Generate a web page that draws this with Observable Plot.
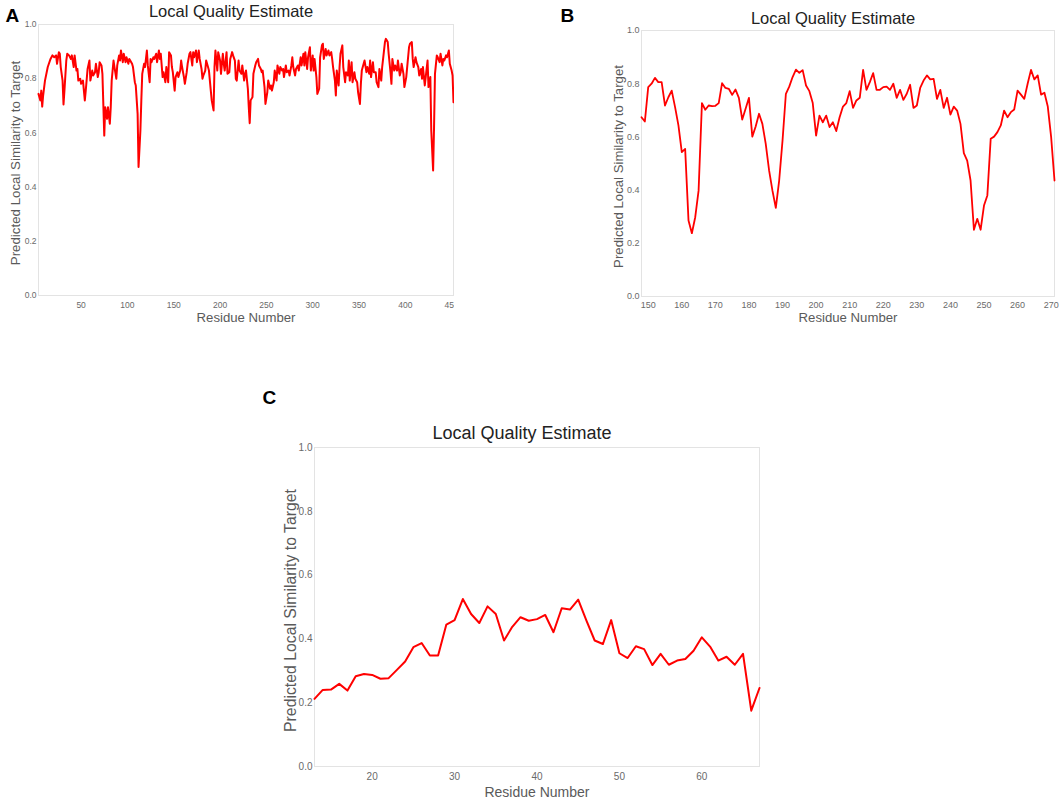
<!DOCTYPE html>
<html><head><meta charset="utf-8">
<script src="https://cdn.jsdelivr.net/npm/d3@7"></script>
<script src="https://cdn.jsdelivr.net/npm/@observablehq/plot@0.6"></script>
<style>
html,body{margin:0;padding:0;background:#fff;}
#page{position:relative;width:1059px;height:801px;overflow:hidden;background:#fff;}
.panel{position:absolute;overflow:hidden;}
.panel svg{overflow:hidden;}
</style></head><body><div id="page"></div>
<script>
const FONT = '"Liberation Sans", Arial, Helvetica, sans-serif';

// ---- shared text / ticks ----
const chartTitle = "Local Quality Estimate";
const xAxisLabel = "Residue Number";
const yAxisLabel = "Predicted Local Similarity to Target";
const yTicks = [0, 0.2, 0.4, 0.6, 0.8, 1.0];
const xTicksA = [50, 100, 150, 200, 250, 300, 350, 400, 450];
const xTicksB = [150, 160, 170, 180, 190, 200, 210, 220, 230, 240, 250, 260, 270];
const xTicksC = [20, 30, 40, 50, 60];

// ---- panel A: [residue, predicted local similarity] ----
const qualityA = [[4,.744],[6,.720],[7,.756],[8,.697],[9,.738],[11,.793],[14,.843],[17,.873],[19,.886],[21,.879],[23,.886],[24,.855],[26,.898],[27,.892],[28,.843],[30,.793],[31,.705],[32,.756],[34,.867],[35,.892],[37,.886],[39,.873],[40,.886],[42,.843],[43,.886],[45,.830],[46,.836],[47,.793],[49,.800],[50,.781],[52,.793],[54,.720],[55,.756],[57,.836],[59,.867],[60,.793],[62,.830],[63,.812],[65,.824],[66,.855],[68,.806],[69,.824],[70,.861],[72,.849],[73,.818],[75,.590],[76,.695],[78,.652],[79,.695],[81,.634],[82,.695],[83,.793],[85,.867],[86,.843],[88,.800],[89,.849],[91,.886],[92,.867],[93,.904],[95,.861],[96,.892],[98,.861],[99,.879],[101,.855],[102,.873],[103,.867],[105,.855],[106,.843],[108,.787],[109,.775],[111,.670],[112,.474],[114,.609],[115,.720],[116,.818],[118,.855],[119,.843],[121,.904],[122,.849],[124,.787],[125,.873],[126,.861],[128,.879],[129,.873],[131,.892],[132,.861],[134,.904],[135,.873],[136,.892],[138,.806],[139,.824],[141,.787],[142,.843],[144,.787],[145,.898],[147,.886],[148,.843],[149,.824],[151,.756],[152,.806],[154,.824],[155,.806],[157,.830],[158,.867],[159,.843],[161,.806],[162,.781],[164,.824],[165,.855],[167,.892],[168,.898],[170,.849],[171,.898],[172,.879],[174,.904],[175,.861],[177,.904],[178,.873],[180,.836],[181,.800],[182,.812],[184,.830],[185,.867],[187,.843],[188,.830],[190,.756],[191,.720],[193,.683],[194,.843],[195,.904],[197,.830],[198,.898],[200,.867],[201,.818],[203,.892],[204,.855],[205,.830],[207,.898],[208,.818],[210,.824],[211,.873],[213,.898],[214,.886],[216,.867],[217,.800],[218,.793],[220,.867],[221,.830],[223,.818],[224,.849],[226,.793],[227,.818],[228,.830],[230,.763],[231,.695],[232,.636],[233,.720],[235,.732],[236,.818],[238,.849],[239,.861],[241,.873],[242,.849],[244,.836],[245,.824],[246,.830],[248,.769],[249,.707],[251,.750],[252,.793],[254,.763],[255,.775],[256,.756],[258,.787],[259,.830],[261,.793],[262,.849],[264,.818],[265,.843],[267,.830],[268,.836],[269,.806],[271,.849],[272,.824],[274,.830],[275,.812],[277,.849],[278,.879],[279,.843],[281,.812],[282,.836],[284,.849],[285,.830],[287,.879],[288,.849],[290,.892],[291,.849],[292,.898],[294,.836],[295,.879],[297,.916],[298,.830],[300,.886],[301,.830],[302,.873],[304,.806],[305,.744],[307,.763],[308,.879],[310,.923],[311,.929],[312,.873],[314,.910],[315,.886],[317,.904],[318,.886],[320,.898],[321,.873],[322,.843],[324,.793],[325,.738],[326,.830],[328,.775],[329,.843],[330,.892],[332,.923],[333,.843],[335,.787],[336,.824],[338,.812],[339,.867],[340,.793],[342,.861],[343,.787],[345,.824],[346,.800],[348,.787],[349,.750],[351,.707],[352,.781],[353,.830],[355,.855],[356,.867],[358,.824],[359,.843],[361,.818],[362,.867],[363,.806],[365,.861],[366,.824],[368,.824],[369,.787],[371,.769],[372,.836],[374,.793],[375,.843],[376,.873],[378,.935],[379,.947],[381,.935],[382,.892],[384,.824],[385,.781],[386,.873],[388,.830],[389,.849],[391,.830],[392,.867],[394,.812],[395,.824],[396,.855],[398,.818],[399,.769],[401,.806],[402,.843],[404,.916],[405,.929],[407,.935],[408,.873],[409,.843],[411,.879],[412,.861],[414,.843],[415,.812],[417,.836],[418,.800],[419,.843],[421,.775],[422,.806],[424,.867],[425,.769],[427,.806],[428,.609],[430,.461],[431,.621],[432,.818],[434,.886],[435,.879],[437,.861],[438,.892],[440,.849],[441,.873],[442,.867],[444,.886],[445,.879],[447,.904],[448,.855],[450,.830],[451,.812],[452,.713]];

// ---- panel B: residues 148..271 ----
const firstResidueB = 148;
const scoresB = [.674,.658,.787,.800,.822,.806,.806,.718,.749,.774,
.712,.643,.543,.555,.286,.238,.298,.398,.727,.702,
.718,.716,.717,.727,.802,.784,.781,.758,.778,.747,
.665,.706,.747,.601,.639,.687,.649,.574,.474,.398,
.333,.436,.586,.762,.789,.825,.853,.841,.851,.793,
.772,.727,.605,.680,.655,.680,.637,.655,.622,.674,
.714,.727,.772,.709,.737,.747,.852,.777,.806,.840,
.777,.777,.787,.789,.777,.800,.747,.777,.739,.762,
.796,.709,.718,.784,.812,.831,.816,.818,.743,.777,
.709,.747,.684,.714,.699,.649,.539,.511,.436,.251,
.292,.251,.342,.380,.593,.601,.618,.643,.699,.674,
.693,.703,.774,.759,.743,.800,.852,.816,.831,.759,
.766,.714,.599,.436];

// ---- panel C: residues 13..67 ----
const firstResidueC = 13;
const scoresC = [.212,.240,.241,.259,.238,.283,.290,.287,.275,.277,
.303,.329,.374,.387,.348,.348,.445,.459,.525,.478,
.450,.502,.478,.395,.438,.468,.457,.462,.475,.421,
.496,.492,.523,.457,.395,.384,.459,.355,.340,.377,
.368,.318,.353,.319,.332,.337,.363,.405,.376,.332,
.344,.319,.353,.175,.246];

const dataA = qualityA.map(([res, score]) => ({res, score}));
const dataB = scoresB.map((score, i) => ({res: firstResidueB + i, score}));
const dataC = scoresC.map((score, i) => ({res: firstResidueC + i, score}));

function makePanel(o) {
  const t = d => d;
  const plot = Plot.plot({
    width: o.width, height: o.height,
    marginLeft: o.ml, marginRight: o.mr, marginTop: o.mt, marginBottom: o.mb,
    style: {fontFamily: FONT, fontSize: o.tickFont + "px", color: "#6a6a6a", background: "transparent", overflow: "hidden"},
    x: {domain: o.xDomain, ticks: o.xTicks, tickSize: 0, tickPadding: o.xPad, label: null, tickFormat: d3.format("d")},
    y: {domain: [0, 1], ticks: yTicks, tickSize: 0, tickPadding: o.yPad, label: null, tickFormat: d3.format(".1f")},
    marks: [
      Plot.frame({stroke: "#e3e3e3", strokeWidth: 1}),
      Plot.line(o.data, {x: "res", y: "score", stroke: "#ff0000", strokeWidth: o.lineWidth, strokeLinejoin: "round"}),
      Plot.text([chartTitle], {text: t, frameAnchor: "top", textAnchor: "middle", dx: o.titleDx, dy: o.titleDy, lineAnchor: "bottom", fontSize: o.titleFont, fill: "#222", fontFamily: FONT}),
      Plot.text([xAxisLabel], {text: t, frameAnchor: "bottom", textAnchor: "middle", dy: o.xLabDy, lineAnchor: "middle", fontSize: o.xLabFont, fill: "#5a5a5a", fontFamily: FONT}),
      Plot.text([yAxisLabel], {text: t, frameAnchor: "left", textAnchor: "middle", rotate: -90, dx: o.yLabDx, dy: o.yLabDy, lineAnchor: "middle", fontSize: o.yLabFont, fill: "#5a5a5a", fontFamily: FONT}),
      Plot.text([o.letter], {text: t, frameAnchor: "top-left", dx: o.letterDx, dy: o.letterDy, textAnchor: "start", lineAnchor: "bottom", fontSize: 19, fontWeight: "bold", fill: "#000", fontFamily: FONT})
    ]
  });
  const div = document.createElement("div");
  div.className = "panel";
  div.style.left = o.left + "px";
  div.style.top = o.top + "px";
  div.style.width = o.width + "px";
  div.style.height = o.height + "px";
  div.appendChild(plot);
  document.getElementById("page").appendChild(div);
}

makePanel({
  letter: "A", data: dataA, xDomain: [4, 452], xTicks: xTicksA,
  left: 0, top: 0, width: 454, height: 330, ml: 38, mr: 1, mt: 24, mb: 35,
  tickFont: 8.5, xPad: 6, yPad: 2, lineWidth: 2,
  titleFont: 16.5, titleDx: -15, titleDy: -8,
  xLabFont: 13.2, xLabDy: 22, yLabFont: 13.3, yLabDx: -23, yLabDy: 3,
  letterDx: -33, letterDy: -2.3
});

makePanel({
  letter: "B", data: dataB, xDomain: [148, 271], xTicks: xTicksB,
  left: 555, top: 0, width: 504, height: 330, ml: 86, mr: 5, mt: 30, mb: 34,
  tickFont: 9, xPad: 5, yPad: 2, lineWidth: 1.8,
  titleFont: 16.5, titleDx: -15, titleDy: -7,
  xLabFont: 13.2, xLabDy: 21, yLabFont: 13.2, yLabDx: -22.7, yLabDy: 3,
  letterDx: -81, letterDy: -8.3
});

makePanel({
  letter: "C", data: dataC, xDomain: [13, 67], xTicks: xTicksC,
  left: 250, top: 380, width: 520, height: 420, ml: 64, mr: 11, mt: 67, mb: 34,
  tickFont: 10, xPad: 6.5, yPad: 2, lineWidth: 2,
  titleFont: 18, titleDx: -15, titleDy: -9,
  xLabFont: 14, xLabDy: 26, yLabFont: 15.8, yLabDx: -24, yLabDy: 3.5,
  letterDx: -52, letterDy: -43.7
});
</script>
</body></html>
